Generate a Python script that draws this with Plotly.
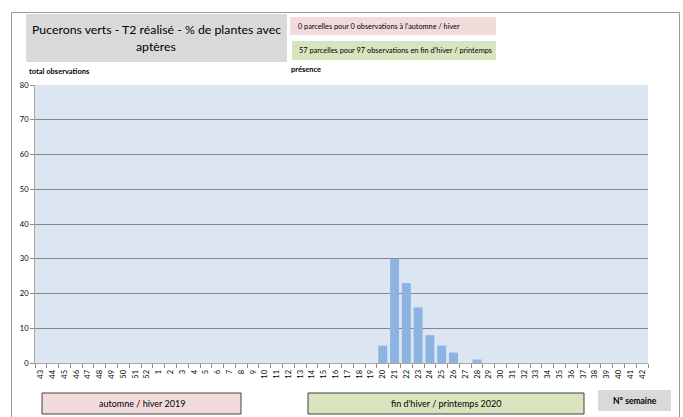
import plotly.graph_objects as go

weeks = [str(w) for w in list(range(43, 53)) + list(range(1, 43))]
presence = {"20": 5, "21": 30, "22": 23, "23": 16, "24": 8, "25": 5, "26": 3, "28": 1}
values = [presence.get(w, 0) for w in weeks]

title_lines = ["Pucerons verts - T2 réalisé - % de plantes avec", "aptères"]
info_autumn = "0 parcelles pour 0 observations à l'automne / hiver"
info_spring = "57 parcelles pour 97 observations en fin d'hiver / printemps"
label_autumn = "automne / hiver 2019"
label_spring = "fin d'hiver / printemps 2020"
label_week = "N° semaine"
ylabel = "total observations"
series_name = "présence"

W, H = 683, 417
L, R, T, B = 35, 648, 85, 363
FONT = "Lato"


def px(x):
    return (x - L) / (R - L)


def py(y):
    return (B - y) / (B - T)


fig = go.Figure()
fig.add_trace(go.Bar(x=weeks, y=values, marker=dict(color="#8DB3E2", line=dict(width=0)),
                     name=series_name, showlegend=False))

shapes = []
annotations = []


def box(x0, y0, x1, y1, fill, line=None):
    shapes.append(dict(type="rect", xref="paper", yref="paper",
                       x0=px(x0), x1=px(x1), y0=py(y1), y1=py(y0),
                       fillcolor=fill,
                       line=dict(color=line or fill, width=1 if line else 0),
                       layer="below"))


def text(x, y, s, size, xanchor="center", bold=False, color="#000000"):
    annotations.append(dict(xref="paper", yref="paper", x=px(x), y=py(y), text=("<b>%s</b>" % s) if bold else s,
                            showarrow=False, xanchor=xanchor, yanchor="middle",
                            font=dict(family=FONT, size=size, color=color)))


# outer frame
shapes.append(dict(type="path", xref="paper", yref="paper",
                   path="M %f %f L %f %f L %f %f L %f %f" % (px(11.5), py(417), px(11.5), py(12.5),
                                                             px(679.5), py(12.5), px(679.5), py(417)),
                   line=dict(color="#9A9A9A", width=1), layer="above"))
# title box
box(26, 14, 287, 62, "#D9D9D9")
text(156, 30, title_lines[0], 12.3)
text(156, 47, title_lines[1], 12.3)
# info boxes
box(290, 17, 496, 35, "#F2DCDB")
text(296, 26, info_autumn, 7.3, xanchor="left")
box(292, 41, 496, 60, "#D7E4BD")
text(297, 50.5, info_spring, 7.4, xanchor="left")
# labels
text(27, 71, ylabel, 7.5, xanchor="left", bold=True)
text(306, 70, series_name, 7.5, bold=True)
# bottom boxes
box(42, 393, 241, 414, "#F2DCDB", line="#404040")
text(141.5, 403.5, label_autumn, 9)
box(308, 393, 584, 414, "#D7E4BD", line="#404040")
text(446, 403.5, label_spring, 9)
box(598, 390, 671, 411, "#D9D9D9")
text(634.5, 400.5, label_week, 8.5, bold=True)

fig.update_layout(
    width=W, height=H,
    margin=dict(l=L, r=W - R, t=T, b=H - B, pad=0),
    paper_bgcolor="white", plot_bgcolor="#DCE6F2",
    bargap=0.24,
    shapes=shapes, annotations=annotations,
    font=dict(family=FONT, color="#000000"),
    xaxis=dict(type="category", categoryorder="array", categoryarray=weeks,
               tickangle=-90, tickfont=dict(size=7.5, family=FONT, color="#000000"),
               ticks="outside", tickson="boundaries", ticklen=4, tickcolor="#8C8C8C",
               ticklabelstandoff=3,
               showline=True, linecolor="#A6A6A6", linewidth=1, showgrid=False,
               range=[-0.5, len(weeks) - 0.5]),
    yaxis=dict(range=[0, 80], dtick=10, tickfont=dict(size=7.5, family=FONT, color="#000000"),
               showgrid=True, gridcolor="#868686", gridwidth=1,
               ticks="outside", ticklen=4, tickcolor="#8C8C8C",
               showline=True, linecolor="#A6A6A6", linewidth=1, zeroline=False),
)

fig.write_html("out.html", config={"displayModeBar": False},
               post_script="document.body.style.margin='0';document.body.style.overflow='hidden';")
